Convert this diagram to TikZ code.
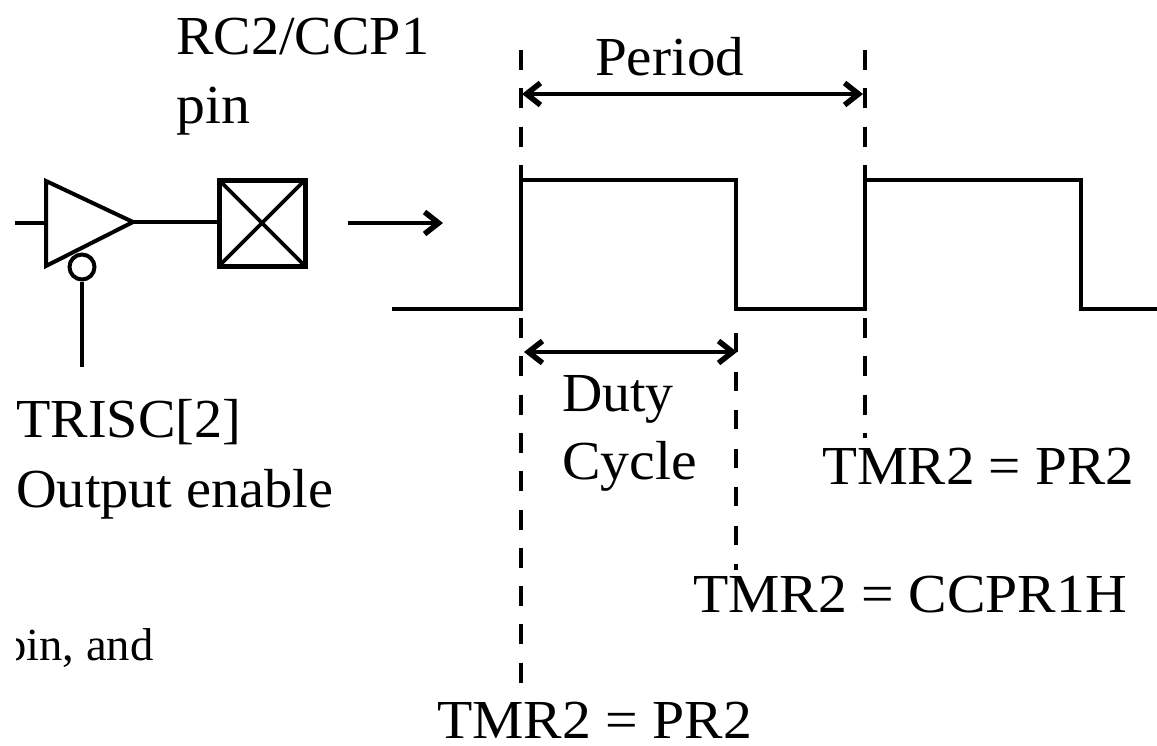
\documentclass[tikz,border=0pt]{standalone}
\usepackage{fontspec}
\setmainfont[FakeStretch=1.05]{Liberation Serif}
\usetikzlibrary{arrows.meta}
\tikzset{
  px/.style={x=1pt,y=-1pt},
  wire/.style={line width=3.6pt,black},
  wave/.style={line width=3.8pt,black,line join=miter},
  dash outer/.style={line width=4pt,black,dash pattern=on 20pt off 18.3pt},
  dash mid/.style={line width=4pt,black,dash pattern=on 19pt off 19.5pt},
  dim/.style={line width=3.6pt,black,{Straight Barb[length=14pt,width=22pt,line width=5.5pt]}-{Straight Barb[length=14pt,width=22pt,line width=5.5pt]}},
  lbl/.style={inner sep=0pt,anchor=base west,font=\fontsize{55}{55}\selectfont,text=black},
  sym/.style={draw=black,line width=4pt},
}
\begin{document}
\begin{tikzpicture}[px]
\useasboundingbox (0,0) rectangle (1157,745);
\coordinate (inL) at (15,223);
\coordinate (triA) at (46,223);
\coordinate (triT) at (133,222);
\coordinate (padL) at (219,222);
\coordinate (arrA) at (348,223);
\coordinate (arrB) at (443,223);
\coordinate (enB) at (82,367);
% buffer
\draw[sym,line join=miter,fill=white] (46,181) -- (133,222) -- (46,266) -- cycle;
\node[sym,circle,minimum size=25pt,inner sep=0pt,fill=white] (bub) at (82,267) {};
\draw[sym] (bub.south) -- (enB);
\draw[wire] (inL) -- (triA);
\draw[wire] (triT) -- (padL);
% pad
\node[sym,line width=5pt,minimum width=86pt,minimum height=86pt,inner sep=0pt] (pad) at (262,223) {};
\draw[wire,shorten <=2.5pt,shorten >=2.5pt] (pad.north west) -- (pad.south east);
\draw[wire,shorten <=2.5pt,shorten >=2.5pt] (pad.south west) -- (pad.north east);
% flow arrow
\draw[wire,-{Straight Barb[length=14pt,width=22pt,line width=5.5pt]}] (arrA) -- (arrB);
% waveform
\draw[wave] (392,309) -- (521,309) -- (521,180) -- (736,180) -- (736,309) -- (865,309) -- (865,180) -- (1081,180) -- (1081,309) -- (1157,309);
% guides
\draw[dash outer] (521,50) -- (521,180);
\draw[dash outer] (521,318) -- (521,684);
\draw[dash outer] (865,50) -- (865,180);
\draw[dash outer] (865,318) -- (865,438);
\draw[dash mid] (736,333) -- (736,570);
% dimensions
\draw[dim] (522,94) -- (863,94);
\draw[dim] (524,352) -- (737,352);
% labels
\node[lbl,xscale=.973] (t1) at (176,54) {RC2/CCP1};
\node[lbl] (t2) at (176,123) {pin};
\node[lbl,xscale=.99] (t3) at (595,75) {Period};
\node[lbl,xscale=.965] (t4) at (562,411) {Duty};
\node[lbl] (t5) at (562,479) {Cycle};
\node[lbl,xscale=.974] (t6) at (16,437) {TRISC[2]};
\node[lbl,xscale=.975] (t7) at (16,507) {Output enable};
\node[lbl,xscale=.99] (t9) at (822,484) {TMR2 = PR2};
\node[lbl] (t10) at (693,612) {TMR2 = CCPR1H};
\node[lbl] (t11) at (437,738) {TMR2 = PR2};
\begin{scope}
\clip (16,600) rectangle (300,700);
\node[lbl,font=\fontsize{46}{46}\selectfont,xscale=.965] (t12) at (3,660) {pin, and};
\end{scope}
\end{tikzpicture}
\end{document}
